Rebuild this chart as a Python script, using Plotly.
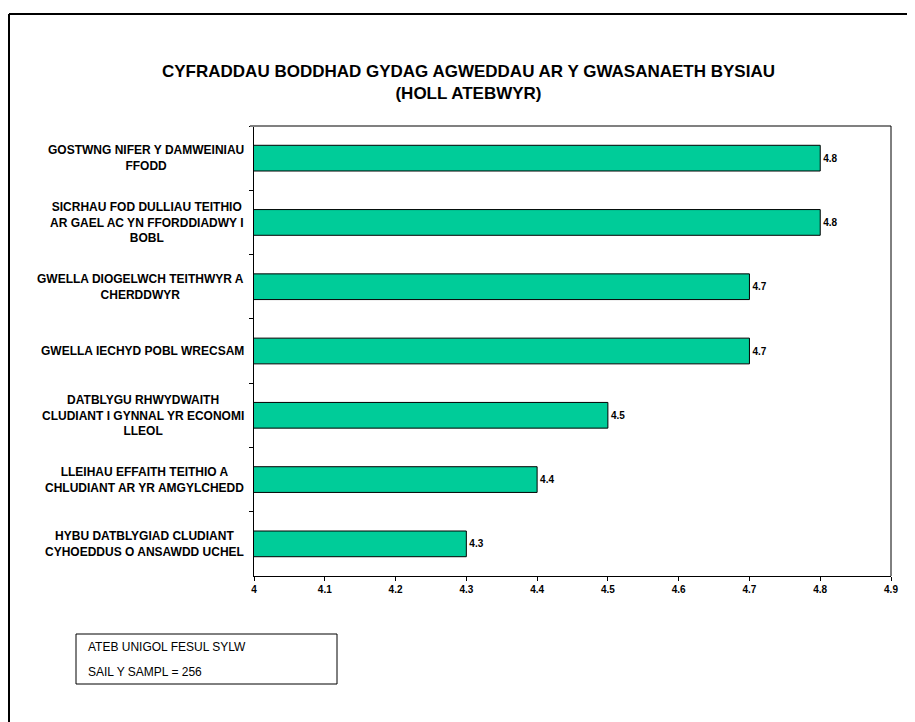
import plotly.graph_objects as go

categories = [
    "GOSTWNG NIFER Y DAMWEINIAU<br>FFODD",
    "SICRHAU FOD DULLIAU TEITHIO<br>AR GAEL AC YN FFORDDIADWY I<br>BOBL",
    "GWELLA DIOGELWCH TEITHWYR A<br>CHERDDWYR",
    "GWELLA IECHYD POBL WRECSAM",
    "DATBLYGU RHWYDWAITH<br>CLUDIANT I GYNNAL YR ECONOMI<br>LLEOL",
    "LLEIHAU EFFAITH TEITHIO A<br>CHLUDIANT AR YR AMGYLCHEDD",
    "HYBU DATBLYGIAD CLUDIANT<br>CYHOEDDUS O ANSAWDD UCHEL",
]
values = [4.8, 4.8, 4.7, 4.7, 4.5, 4.4, 4.3]
x_ticks = [4, 4.1, 4.2, 4.3, 4.4, 4.5, 4.6, 4.7, 4.8, 4.9]
title_text = "CYFRADDAU BODDHAD GYDAG AGWEDDAU AR Y GWASANAETH BYSIAU<br>(HOLL ATEBWYR)"
note_lines = ["ATEB UNIGOL FESUL SYLW", "SAIL Y SAMPL = 256"]

FONT = "Arial, Liberation Sans, sans-serif"
ids = list(range(len(categories)))

# page body margin offset (8px) compensation
OFF = 8
W, H = 915 - OFF, 722 - OFF
L, R, T, B = 254 - OFF, 891 - OFF, 126 - OFF, 576 - OFF
def px(xp): return (xp - OFF - L) / (R - L)
def py(yp): return (B - (yp - OFF)) / (B - T)

fig = go.Figure()
fig.add_trace(go.Bar(
    y=ids, x=values, orientation="h", width=0.4,
    marker=dict(color="#00CC99", line=dict(color="black", width=1)),
    text=[f"{v:.1f}" for v in values], textposition="outside",
    textfont=dict(family=FONT, size=10, color="black", weight="bold"),
    cliponaxis=False, showlegend=False,
))

annotations = []
for i, c in zip(ids, categories):
    annotations.append(dict(
        x=0, xref="paper", y=i, yref="y", text=c, showarrow=False,
        xanchor="right", yanchor="middle", align="center", xshift=-8,
        font=dict(family=FONT, size=12, color="black", weight="bold"),
    ))

annotations.append(dict(
    x=px(468), xref="paper", y=py(83), yref="paper",
    text="<b>" + title_text + "</b>", showarrow=False, xanchor="center", yanchor="middle",
    font=dict(family=FONT, size=17, color="black"),
))

for k, line in enumerate(note_lines):
    annotations.append(dict(
        x=px(86), xref="paper", y=py(647 + 25 * k), yref="paper", text=line,
        showarrow=False, xanchor="left", yanchor="middle",
        font=dict(family=FONT, size=12, color="black"),
    ))

BX = px(OFF + 1)  # left outer border (as close to page x=6 as the svg allows)
shapes = [
    dict(type="line", xref="paper", yref="paper", x0=px(250), x1=1, y0=1, y1=1,
         line=dict(color="#808080", width=2)),
    dict(type="line", xref="paper", yref="paper", x0=1, x1=1, y0=0, y1=1,
         line=dict(color="black", width=1)),
    dict(type="rect", xref="paper", yref="paper", x0=px(76), x1=px(337), y0=py(684), y1=py(634),
         line=dict(color="black", width=1), fillcolor="rgba(0,0,0,0)"),
    dict(type="line", xref="paper", yref="paper", x0=BX, x1=px(930), y0=py(14), y1=py(14),
         line=dict(color="black", width=2)),
    dict(type="line", xref="paper", yref="paper", x0=BX, x1=BX, y0=py(14), y1=py(740),
         line=dict(color="black", width=2)),
]

fig.update_layout(
    width=W, height=H, margin=dict(l=L, r=W - R, t=T, b=H - B),
    paper_bgcolor="white", plot_bgcolor="white",
    annotations=annotations, shapes=shapes,
    xaxis=dict(range=[4, 4.9], tickvals=x_ticks, ticktext=[f"{t:g}" for t in x_ticks],
               showgrid=False, zeroline=False, showline=True, linecolor="black", linewidth=1,
               ticks="outside", ticklen=4, tickcolor="black",
               tickfont=dict(family=FONT, size=10, color="black", weight="bold")),
    yaxis=dict(range=[len(categories) - 0.5, -0.5], tickvals=[i + 0.5 for i in ids[:-1]] + [-0.5],
               showticklabels=False,
               showgrid=False, zeroline=False, showline=True, linecolor="black", linewidth=1,
               ticks="outside", ticklen=4, tickcolor="black"),
)

fig.write_html("out.html")
